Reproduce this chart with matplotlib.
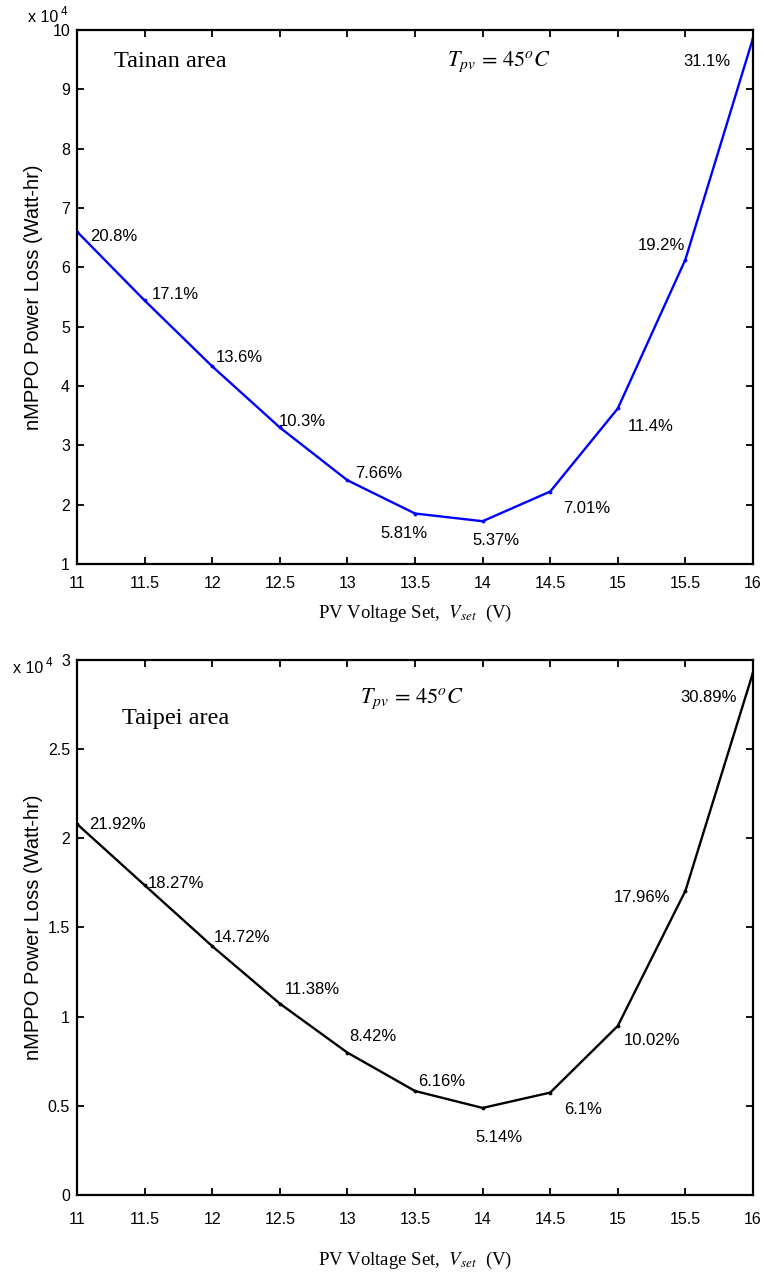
import matplotlib
matplotlib.use("Agg")
import matplotlib.pyplot as plt

plt.rcParams['mathtext.fontset'] = 'stix'

# PV voltage set points (V)
vset = [11, 11.5, 12, 12.5, 13, 13.5, 14, 14.5, 15, 15.5, 16]

# Tainan area, power loss in units of 1e4 Watt-hr, and percent labels
tainan_loss = [6.60, 5.44, 4.33, 3.30, 2.41, 1.85, 1.72, 2.22, 3.62, 6.13, 9.86]
tainan_pct = ['20.8%', '17.1%', '13.6%', '10.3%', '7.66%', '5.81%', '5.37%',
              '7.01%', '11.4%', '19.2%', '31.1%']

# Taipei area
taipei_loss = [2.08, 1.737, 1.395, 1.073, 0.798, 0.583, 0.488, 0.574, 0.948, 1.705, 2.929]
taipei_pct = ['21.92%', '18.27%', '14.72%', '11.38%', '8.42%', '6.16%', '5.14%',
              '6.1%', '10.02%', '17.96%', '30.89%']

xtick_vals = [11, 11.5, 12, 12.5, 13, 13.5, 14, 14.5, 15, 15.5, 16]
xtick_labels = ['11', '11.5', '12', '12.5', '13', '13.5', '14', '14.5', '15', '15.5', '16']
tainan_yticks = [1, 2, 3, 4, 5, 6, 7, 8, 9, 10]
tainan_ylabels = ['1', '2', '3', '4', '5', '6', '7', '8', '9', '10']
taipei_yticks = [0, 0.5, 1, 1.5, 2, 2.5, 3]
taipei_ylabels = ['0', '0.5', '1', '1.5', '2', '2.5', '3']

# where each percent label sits (x, y in data units)
tainan_lbl_pos = [(11.27, 6.52), (11.73, 5.54), (12.20, 4.48), (12.67, 3.40),
                  (13.23, 2.53), (13.42, 1.51), (14.10, 1.39), (14.77, 1.94),
                  (15.24, 3.32), (15.32, 6.36), (15.66, 9.46)]
taipei_lbl_pos = [(11.30, 2.08), (11.73, 1.749), (12.22, 1.446), (12.74, 1.154),
                  (13.19, 0.890), (13.70, 0.637), (14.12, 0.325), (14.74, 0.480),
                  (15.25, 0.868), (15.18, 1.670), (15.67, 2.787)]

sans = ['Liberation Sans', 'DejaVu Sans']
serif = ['Liberation Serif', 'DejaVu Serif']

fig = plt.figure(figsize=(7.64, 12.73), dpi=100)
ax1 = fig.add_axes([0.1008, 0.5570, 0.8848, 0.4195])
ax2 = fig.add_axes([0.1008, 0.0613, 0.8848, 0.4203])


def setup(ax, loss, pct, pos, color, yticks, ylabels, ylim, area, xpad, xlab_y):
    ax.plot(vset, loss, color=color, lw=1.7, marker='.', ms=3.5)
    for (tx, ty), s in zip(pos, pct):
        ax.text(tx, ty, s, ha='center', va='center', fontsize=12, family=sans)
    ax.set_xlim(11, 16)
    ax.set_ylim(*ylim)
    ax.set_xticks(xtick_vals)
    ax.set_xticklabels(xtick_labels, family=sans, fontsize=11.5)
    ax.set_yticks(yticks)
    ax.set_yticklabels(ylabels, family=sans, fontsize=11.5)
    ax.tick_params(direction='in', top=True, right=True, length=5, width=1.3)
    ax.tick_params(axis='x', pad=xpad)
    ax.tick_params(axis='y', pad=5)
    for sp in ax.spines.values():
        sp.set_linewidth(1.6)
    ax.set_xlabel(r'PV Voltage Set,  $V_{set}$  (V)', family=serif, fontsize=13.5, va='center')
    ax.xaxis.set_label_coords(0.5, xlab_y)
    ax.set_ylabel('nMPPO Power Loss (Watt-hr)', family=sans, fontsize=14.5, va='center')
    ax.yaxis.set_label_coords(-0.065, 0.5)
    ax.text(area[1], area[2], area[0], family=serif, fontsize=17.5, ha='left', va='center')
    ax.text(area[3], area[4], r'$T_{pv}\,=\,\mathit{45}^{o}C$', fontsize=16,
            ha='center', va='center')


setup(ax1, tainan_loss, tainan_pct, tainan_lbl_pos, '#0000ff',
      tainan_yticks, tainan_ylabels, (1, 10),
      ('Tainan area', 11.27, 9.46, 14.12, 9.46), 8.5, -0.092)
setup(ax2, taipei_loss, taipei_pct, taipei_lbl_pos, 'black',
      taipei_yticks, taipei_ylabels, (0, 3),
      ('Taipei area', 11.33, 2.669, 13.48, 2.78), 12.5, -0.1215)

# exponent markers for the y axes
for x0, ypx in [(28, 18), (13, 669)]:
    fig.text(x0 / 764, 1 - ypx / 1273, 'x 10', family=sans, fontsize=11.5, va='center')
    fig.text((x0 + 33) / 764, 1 - (ypx - 6) / 1273, '4', family=sans, fontsize=8.5, va='center')

fig.savefig('out.png', dpi=100)
